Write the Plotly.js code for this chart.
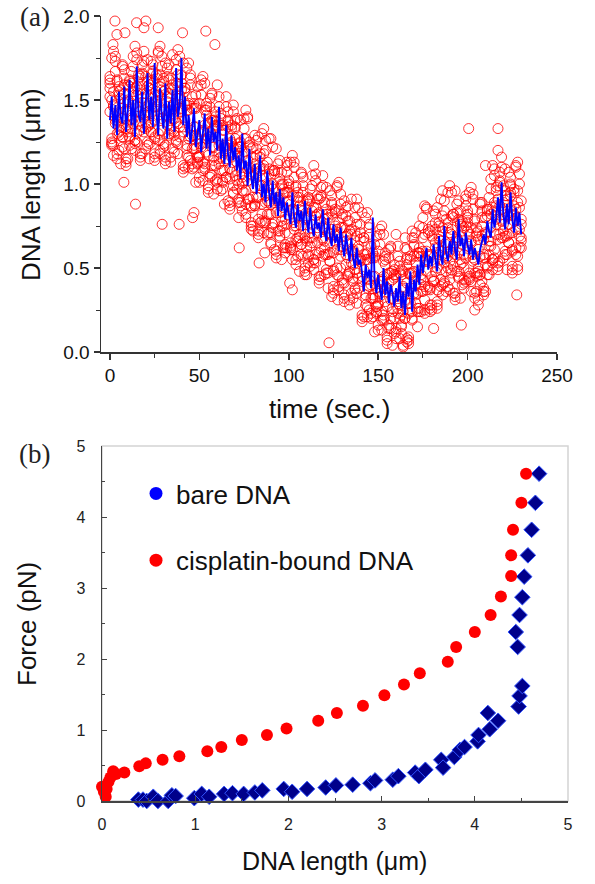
<!DOCTYPE html>
<html>
<head>
<meta charset="utf-8">
<script src="https://cdn.plot.ly/plotly-3.0.1.min.js"></script>
<style>html,body{margin:0;padding:0;background:#fff;}#chart{width:595px;height:884px;}</style>
</head>
<body>
<div id="chart"></div>
<script>
// ---------- Panel (a): DNA length vs time ----------
const timeStart = 0, timeEnd = 230;   // one sample per second
const blueLength = [
1.38,1.52,1.33,1.47,1.29,1.55,1.40,1.36,1.58,1.31,
1.44,1.62,1.35,1.50,1.28,1.70,1.41,1.37,1.55,1.30,
1.48,1.66,1.38,1.52,1.34,1.72,1.43,1.29,1.57,1.40,
1.33,1.60,1.27,1.49,1.36,1.56,1.31,1.69,1.40,1.47,
1.75,1.35,1.52,1.28,1.41,1.24,1.33,1.45,1.22,1.30,
1.38,1.19,1.29,1.42,1.21,1.33,1.17,1.40,1.25,1.31,
1.20,1.46,1.15,1.27,1.12,1.35,1.18,1.10,1.29,1.14,
1.22,1.08,1.17,1.03,1.30,1.09,1.14,0.99,1.21,1.04,
0.97,1.12,0.94,1.05,1.17,0.92,1.00,0.89,1.08,0.95,
0.86,1.02,0.88,0.95,0.81,0.97,0.84,0.92,0.79,0.89,
0.83,0.76,0.95,0.80,0.74,0.88,0.78,0.84,0.72,0.90,
0.79,0.71,0.86,0.74,0.69,0.82,0.73,0.77,0.68,0.85,
0.72,0.66,0.80,0.69,0.63,0.76,0.65,0.70,0.60,0.74,
0.64,0.57,0.70,0.60,0.54,0.68,0.56,0.50,0.62,0.52,
0.55,0.47,0.36,0.52,0.44,0.49,0.38,0.80,0.43,0.35,
0.46,0.37,0.31,0.50,0.34,0.42,0.29,0.40,0.35,0.27,
0.38,0.30,0.45,0.26,0.36,0.22,0.41,0.33,0.48,0.24,
0.43,0.36,0.52,0.40,0.58,0.47,0.55,0.62,0.49,0.57,
0.51,0.64,0.55,0.48,0.69,0.57,0.52,0.75,0.59,0.54,
0.66,0.58,0.72,0.61,0.55,0.79,0.63,0.68,0.57,0.71,
0.64,0.58,0.67,0.55,0.62,0.57,0.52,0.61,0.66,0.70,
0.64,0.78,0.72,0.68,0.85,0.74,0.80,0.92,0.77,1.01,
0.82,0.73,0.88,0.76,0.95,0.79,0.71,0.86,0.75,0.83,0.70];

const redLengthA = [
1.64,1.24,1.47,1.76,1.15,1.53,1.34,1.71,1.21,1.44,
1.50,1.27,1.67,1.47,1.24,1.74,1.37,1.56,1.18,1.79,
1.37,1.74,1.24,1.47,1.67,1.27,1.50,1.79,1.18,1.56,
1.22,1.72,1.35,1.54,1.16,1.77,1.48,1.25,1.65,1.45,
1.44,1.72,1.10,1.47,1.27,1.63,1.12,1.34,1.53,1.12,
1.01,1.62,1.32,1.09,1.48,1.28,1.04,1.54,1.16,1.35,
1.01,1.23,1.42,1.01,1.23,1.52,0.90,1.27,1.07,1.43,
1.34,1.13,0.89,1.38,1.00,1.19,0.80,1.40,1.10,0.86,
0.75,1.12,0.92,1.28,0.77,0.99,1.18,0.77,0.99,1.27,
0.82,1.00,0.61,1.21,0.91,0.68,1.07,0.86,0.62,1.11,
1.02,0.62,0.85,1.13,0.52,0.90,0.70,1.07,0.57,0.79,
0.81,0.57,0.97,0.76,0.53,1.02,0.65,0.83,0.45,1.05,
0.62,0.98,0.47,0.70,0.89,0.48,0.70,0.99,0.37,0.74,
0.41,0.90,0.52,0.70,0.31,0.91,0.61,0.37,0.76,0.55,
0.55,0.83,0.21,0.58,0.38,0.74,0.23,0.45,0.64,0.23,
0.13,0.73,0.43,0.19,0.59,0.38,0.14,0.63,0.26,0.44,
0.12,0.34,0.54,0.15,0.39,0.68,0.08,0.47,0.29,0.68,
0.64,0.45,0.24,0.75,0.40,0.60,0.23,0.86,0.58,0.37,
0.28,0.67,0.48,0.86,0.36,0.60,0.81,0.41,0.65,0.95,
0.54,0.73,0.35,0.96,0.67,0.44,0.84,0.64,0.41,0.91,
0.84,0.44,0.66,0.94,0.32,0.69,0.50,0.89,0.42,0.67,
0.71,0.50,0.92,0.74,0.53,1.05,0.70,0.91,0.54,1.16,
0.72,1.09,0.58,0.81,1.00,0.60,0.82,1.11,0.49,0.86,0.66];

const redLengthB = [
1.60,1.50,1.17,1.73,1.30,1.20,1.56,1.39,1.68,1.11,
1.59,1.23,1.33,1.76,1.20,1.53,1.63,1.14,1.71,1.42,
1.33,1.23,1.59,1.42,1.71,1.14,1.63,1.53,1.20,1.76,
1.61,1.12,1.69,1.40,1.57,1.21,1.31,1.74,1.18,1.51,
1.65,1.07,1.55,1.44,1.10,1.65,1.21,1.10,1.45,1.27,
1.16,1.59,1.02,1.35,1.44,0.95,1.51,1.22,1.38,1.02,
0.97,1.52,1.08,0.97,1.32,1.15,1.43,0.85,1.33,1.22,
1.38,1.08,1.24,0.87,0.96,1.39,0.82,1.14,1.23,0.73,
1.16,0.98,1.26,0.68,1.16,1.05,0.71,1.26,0.82,0.71,
0.65,0.97,1.06,0.56,1.12,0.83,0.99,0.62,0.71,1.13,
0.98,0.88,0.55,1.10,0.67,0.57,0.92,0.75,1.04,0.46,
0.90,0.53,0.63,1.05,0.49,0.81,0.91,0.41,0.98,0.68,
0.58,0.47,0.82,0.65,0.93,0.35,0.83,0.73,0.39,0.94,
0.80,0.30,0.86,0.56,0.72,0.35,0.44,0.86,0.29,0.61,
0.76,0.18,0.66,0.55,0.21,0.76,0.32,0.21,0.56,0.38,
0.28,0.70,0.13,0.45,0.55,0.05,0.61,0.31,0.48,0.11,
0.08,0.63,0.20,0.11,0.48,0.31,0.61,0.05,0.55,0.47,
0.68,0.40,0.59,0.24,0.36,0.80,0.25,0.60,0.71,0.24,
0.69,0.53,0.82,0.26,0.75,0.66,0.34,0.90,0.48,0.39,
0.37,0.70,0.80,0.31,0.88,0.59,0.76,0.40,0.50,0.93,
0.80,0.70,0.36,0.91,0.47,0.36,0.72,0.57,0.89,0.34,
0.80,0.46,0.58,1.03,0.49,0.84,0.96,0.49,1.07,0.79,
0.68,0.58,0.93,0.76,1.04,0.47,0.95,0.85,0.51,1.06,0.62];

const redLengthC = [
1.62,1.27,1.79,1.36,1.18,1.58,1.32,1.70,1.48,1.13,
1.35,1.61,1.21,1.39,1.82,1.30,1.65,1.16,1.51,1.73,
1.21,1.61,1.35,1.73,1.51,1.16,1.65,1.30,1.82,1.39,
1.63,1.14,1.49,1.71,1.33,1.59,1.19,1.37,1.80,1.28,
1.45,1.09,1.57,1.21,1.72,1.28,1.09,1.48,1.21,1.58,
1.04,1.22,1.64,1.12,1.46,0.97,1.31,1.53,1.14,1.40,
1.59,1.15,0.96,1.35,1.08,1.46,1.23,0.87,1.35,0.99,
1.18,1.39,1.00,1.25,0.84,1.02,1.44,0.91,1.25,0.75,
0.92,1.29,1.06,0.70,1.18,0.82,1.33,0.89,0.70,1.09,
1.27,0.74,1.08,0.58,0.92,1.14,0.75,1.00,0.59,0.76,
1.00,0.65,1.17,0.73,0.55,0.95,0.68,1.06,0.84,0.48,
0.66,0.91,0.51,0.68,1.11,0.58,0.93,0.43,0.78,0.99,
0.46,0.85,0.58,0.96,0.73,0.37,0.85,0.50,1.01,0.57,
0.82,0.32,0.66,0.87,0.48,0.73,0.32,0.49,0.91,0.38,
0.56,0.20,0.68,0.32,0.83,0.39,0.20,0.59,0.32,0.69,
0.16,0.33,0.75,0.22,0.57,0.07,0.41,0.62,0.24,0.49,
0.70,0.26,0.08,0.49,0.24,0.62,0.41,0.07,0.57,0.24,
0.48,0.71,0.35,0.62,0.24,0.43,0.87,0.37,0.73,0.26,
0.45,0.84,0.62,0.28,0.77,0.43,0.96,0.53,0.36,0.77,
0.99,0.47,0.82,0.33,0.68,0.90,0.52,0.78,0.38,0.56,
0.82,0.47,0.98,0.54,0.35,0.74,0.48,0.88,0.69,0.36,
0.56,0.84,0.46,0.66,1.11,0.61,0.98,0.51,0.87,1.10,
0.56,0.96,0.69,1.07,0.84,0.49,0.97,0.62,1.13,0.69,0.90];

const redLengthD = [
1.43,1.75,1.23,1.67,1.38,1.55,1.12,1.28,1.63,1.15,
1.15,1.58,1.41,1.70,1.26,1.78,1.46,1.18,1.66,1.31,
1.41,1.58,1.15,1.31,1.66,1.18,1.46,1.78,1.26,1.70,
1.44,1.16,1.64,1.29,1.13,1.56,1.39,1.68,1.24,1.76,
1.60,1.11,1.38,1.69,1.16,1.59,1.29,1.45,1.01,1.16,
1.24,1.53,1.08,1.60,1.27,0.99,1.46,1.11,0.94,1.37,
1.03,1.46,1.16,1.32,0.88,1.04,1.38,0.89,1.16,1.47,
1.33,0.97,0.80,1.22,1.04,1.33,0.88,1.39,1.06,0.77,
0.72,0.87,1.21,0.72,0.99,1.30,0.77,1.20,0.90,1.06,
0.71,1.22,0.89,0.60,1.07,0.72,0.55,0.97,0.79,1.07,
0.81,1.13,0.61,1.04,0.75,0.92,0.48,0.64,0.99,0.50,
0.46,0.88,0.71,0.99,0.55,1.06,0.74,0.45,0.93,0.57,
0.66,0.82,0.38,0.54,0.88,0.39,0.66,0.98,0.45,0.88,
0.63,0.34,0.81,0.45,0.28,0.70,0.52,0.80,0.35,0.86,
0.71,0.22,0.49,0.80,0.27,0.70,0.40,0.56,0.12,0.27,
0.36,0.64,0.19,0.70,0.38,0.09,0.56,0.20,0.04,0.46,
0.14,0.57,0.28,0.46,0.04,0.20,0.56,0.09,0.38,0.72,
0.63,0.29,0.15,0.59,0.44,0.74,0.31,0.85,0.54,0.28,
0.25,0.42,0.77,0.30,0.58,0.91,0.40,0.84,0.56,0.74,
0.43,0.95,0.63,0.35,0.83,0.48,0.32,0.75,0.58,0.87,
0.63,0.95,0.42,0.85,0.55,0.71,0.28,0.46,0.84,0.38,
0.36,0.81,0.66,0.97,0.55,1.09,0.79,0.53,1.02,0.68,
0.76,0.93,0.49,0.65,0.99,0.51,0.78,1.10,0.57,1.00,0.68];

const redLengthE = [
1.52,1.23,1.55,1.40,1.61,1.31,1.45,1.28,1.59,1.35,
1.31,1.62,1.38,1.55,1.26,1.58,1.43,1.64,1.34,1.48,
1.64,1.34,1.48,1.31,1.62,1.38,1.55,1.26,1.58,1.43,
1.24,1.56,1.41,1.62,1.32,1.46,1.29,1.60,1.36,1.53,
1.56,1.31,1.47,1.17,1.48,1.32,1.52,1.21,1.34,1.16,
1.17,1.31,1.13,1.44,1.19,1.36,1.06,1.38,1.22,1.43,
1.35,1.19,1.39,1.08,1.21,1.04,1.34,1.09,1.25,0.95,
1.05,1.21,0.91,1.22,1.06,1.27,0.96,1.09,0.91,1.21,
1.05,0.87,1.17,0.92,1.08,0.78,1.09,0.93,1.13,0.82,
0.88,1.08,0.77,0.90,0.72,1.03,0.78,0.94,0.64,0.95,
0.90,0.61,0.93,0.77,0.98,0.68,0.81,0.64,0.95,0.70,
0.62,0.92,0.68,0.84,0.55,0.86,0.71,0.91,0.61,0.74,
0.89,0.58,0.71,0.54,0.84,0.59,0.75,0.46,0.77,0.61,
0.43,0.74,0.58,0.78,0.47,0.60,0.42,0.72,0.47,0.63,
0.67,0.42,0.58,0.28,0.59,0.43,0.63,0.32,0.45,0.27,
0.29,0.42,0.24,0.54,0.30,0.46,0.16,0.47,0.32,0.52,
0.46,0.30,0.51,0.22,0.37,0.20,0.52,0.29,0.47,0.20,
0.35,0.53,0.26,0.59,0.46,0.68,0.39,0.55,0.39,0.72,
0.58,0.42,0.73,0.50,0.67,0.39,0.72,0.57,0.79,0.50,
0.60,0.81,0.51,0.65,0.48,0.79,0.55,0.72,0.43,0.75,
0.72,0.43,0.74,0.58,0.78,0.47,0.61,0.46,0.80,0.58,
0.52,0.85,0.63,0.82,0.55,0.89,0.76,0.99,0.70,0.85,
0.99,0.69,0.82,0.65,0.95,0.71,0.87,0.58,0.89,0.73,0.79];

const redLengthF = [
1.57,1.25,1.46,1.38,1.62,1.29,1.51,1.22,1.54,1.33,
1.49,1.28,1.60,1.36,1.57,1.25,1.54,1.32,1.65,1.41,
1.54,1.25,1.57,1.36,1.60,1.28,1.49,1.41,1.65,1.32,
1.55,1.23,1.52,1.30,1.63,1.39,1.47,1.26,1.58,1.34,
1.43,1.34,1.57,1.23,1.44,1.14,1.45,1.23,1.46,1.13,
1.48,1.24,1.31,1.10,1.41,1.17,1.37,1.05,1.33,1.11,
1.34,1.12,1.35,1.02,1.22,1.14,1.37,1.03,1.24,0.94,
1.27,1.02,1.22,0.89,1.17,0.95,1.27,1.02,1.09,0.87,
1.22,0.88,1.09,0.79,1.10,0.88,1.11,0.78,0.98,0.89,
0.99,0.76,1.08,0.83,0.90,0.69,1.00,0.75,0.95,0.62,
0.95,0.63,0.84,0.75,0.99,0.66,0.87,0.58,0.90,0.68,
0.80,0.58,0.90,0.65,0.86,0.53,0.82,0.59,0.92,0.67,
0.79,0.49,0.80,0.59,0.82,0.49,0.69,0.61,0.84,0.50,
0.74,0.41,0.69,0.46,0.78,0.53,0.60,0.38,0.69,0.44,
0.54,0.45,0.68,0.34,0.55,0.25,0.56,0.34,0.57,0.24,
0.60,0.35,0.42,0.20,0.52,0.27,0.47,0.14,0.43,0.20,
0.45,0.23,0.47,0.16,0.38,0.30,0.55,0.23,0.46,0.19,
0.57,0.34,0.57,0.26,0.57,0.36,0.70,0.48,0.57,0.38,
0.75,0.43,0.65,0.37,0.69,0.49,0.74,0.42,0.64,0.57,
0.71,0.49,0.82,0.58,0.66,0.45,0.77,0.53,0.74,0.42,
0.77,0.45,0.65,0.56,0.79,0.45,0.67,0.40,0.75,0.56,
0.70,0.51,0.85,0.63,0.86,0.56,0.87,0.67,1.01,0.78,
0.89,0.60,0.91,0.70,0.93,0.61,0.81,0.73,0.96,0.62,0.76];

// isolated red points away from the band
const outlierTime   = [2.8,3.9,8.4,14.9,19.0,20.1,27.0,40.6,53.6,58.7,1.7,
                       7.8,14.3,29.2,38.7,46.2,47.0,72.3,83.4,86.6,90.0,100.5,102.0,122.5,124.0,127.5,
                       164.0,166.0,181.0,196.5,204.0,206.0,227.5,200.6,217.0,217.0,210.0];
const outlierLength = [1.97,1.89,1.90,1.96,1.93,1.97,1.93,1.90,1.91,1.83,1.83,
                       1.01,0.88,0.76,0.76,0.80,0.83,0.62,0.53,0.59,0.64,0.41,0.37,0.055,0.33,0.31,
                       0.03,0.06,0.14,0.16,0.25,0.31,0.34,1.33,1.33,1.20,1.11];

// ---------- Panel (b): force vs extension ----------
const bareLength = [0.39,0.44,0.48,0.55,0.60,0.71,0.75,0.79,0.99,1.07,1.15,1.31,1.40,1.52,1.64,1.72,
  1.95,2.04,2.20,2.40,2.51,2.69,2.88,2.93,3.12,3.18,3.36,3.40,3.47,3.64,3.66,3.78,3.84,3.89,
  4.03,4.04,4.16,4.14,4.25,4.47,4.48,4.51,4.46,4.44,4.48,4.51,4.53,4.57,4.61,4.65,4.69];
const bareForce  = [0.02,0.02,0.00,0.06,0.00,0.00,0.08,0.07,0.04,0.10,0.06,0.10,0.11,0.10,0.12,0.15,
  0.17,0.13,0.17,0.19,0.22,0.23,0.25,0.29,0.30,0.35,0.40,0.35,0.44,0.58,0.47,0.62,0.72,0.76,
  0.84,0.93,1.01,1.24,1.13,1.33,1.48,1.62,2.17,2.38,2.62,2.87,3.16,3.46,3.82,4.20,4.61];
const cisLength = [0.00,0.02,0.04,0.05,0.07,0.09,0.12,0.15,0.24,0.40,0.47,0.65,0.83,1.13,1.28,1.50,
  1.77,1.98,2.32,2.52,2.80,3.03,3.24,3.41,3.71,3.80,4.00,4.17,4.28,4.39,4.39,4.41,4.50,4.55];
const cisForce  = [0.20,0.13,0.06,0.17,0.27,0.33,0.42,0.38,0.40,0.49,0.53,0.58,0.63,0.70,0.76,0.86,
  0.93,1.02,1.13,1.24,1.34,1.49,1.64,1.80,1.96,2.17,2.38,2.62,2.88,3.17,3.46,3.82,4.20,4.61];
const legendNames = ['bare DNA', 'cisplatin-bound DNA'];

// ---------- build ----------
const time = [];
for (let t = timeStart; t <= timeEnd; t++) time.push(t);

const FONT = 'Liberation Sans, Arial, sans-serif';
const redOpen = {symbol: 'circle-open', size: 10, color: 'rgba(255,0,0,0.8)', line: {width: 1}};

function redTrace(x, y) {
  return {x: x, y: y, xaxis: 'x', yaxis: 'y', type: 'scatter', mode: 'markers',
          marker: redOpen, showlegend: false, cliponaxis: false, hoverinfo: 'skip'};
}

const data = [
  redTrace(time, redLengthA), redTrace(time, redLengthB),
  redTrace(time, redLengthC), redTrace(time, redLengthD),
  redTrace(time, redLengthE), redTrace(time, redLengthF),
  redTrace(outlierTime, outlierLength),
  {x: time, y: blueLength, xaxis: 'x', yaxis: 'y', type: 'scatter', mode: 'lines',
   line: {color: '#0000ff', width: 1.9}, showlegend: false, cliponaxis: false},
  {x: bareLength, y: bareForce, xaxis: 'x2', yaxis: 'y2', type: 'scatter', mode: 'markers',
   marker: {symbol: 'diamond', size: 12, color: '#00008b', line: {color: '#3355ff', width: 1}},
   showlegend: false, cliponaxis: false},
  {x: cisLength, y: cisForce, xaxis: 'x2', yaxis: 'y2', type: 'scatter', mode: 'markers',
   marker: {symbol: 'circle', size: 12, color: '#ff0000'}, showlegend: false, cliponaxis: false},
  {x: [null], y: [null], xaxis: 'x2', yaxis: 'y2', type: 'scatter', mode: 'markers', name: legendNames[0],
   marker: {symbol: 'circle', size: 13, color: '#0000ff'}, legendgroup: 'g1'},
  {x: [null], y: [null], xaxis: 'x2', yaxis: 'y2', type: 'scatter', mode: 'markers', name: legendNames[1],
   marker: {symbol: 'circle', size: 13, color: '#ff0000'}, legendgroup: 'g2'}
];

const W = 595, H = 884;
const px = v => v / W, py = v => (H - v) / H;

function label(text, x, y, size, extra) {
  return Object.assign({text: text, xref: 'paper', yref: 'paper', x: px(x), y: py(y),
    xanchor: 'center', yanchor: 'middle', showarrow: false,
    font: {size: size, family: FONT, color: '#111'}}, extra || {});
}

const layout = {
  width: W, height: H,
  margin: {l: 0, r: 0, t: 0, b: 0},
  paper_bgcolor: '#fff', plot_bgcolor: 'rgba(0,0,0,0)',
  font: {family: FONT, color: '#111'},
  xaxis: {domain: [px(101), px(557)], range: [-5, 250], anchor: 'y', dtick: 50,
    showline: true, linecolor: '#333', linewidth: 1.5, ticks: 'outside', ticklen: 6, tickwidth: 1.5, tickcolor: '#333',
    minor: {dtick: 25, ticks: 'outside', ticklen: 4, tickcolor: '#333', tickwidth: 1},
    showgrid: false, zeroline: false, tickfont: {size: 19, family: FONT, color: '#111'}},
  yaxis: {domain: [py(352), py(16)], range: [0, 2], anchor: 'x', dtick: 0.5, tickformat: '.1f',
    showline: true, linecolor: '#333', linewidth: 1.5, ticks: 'outside', ticklen: 6, tickwidth: 1.5, tickcolor: '#333',
    minor: {dtick: 0.25, ticks: 'outside', ticklen: 4, tickcolor: '#333', tickwidth: 1},
    showgrid: false, zeroline: false, tickfont: {size: 19, family: FONT, color: '#111'}},
  xaxis2: {domain: [px(102), px(568)], range: [0, 5], anchor: 'y2', dtick: 1,
    showline: true, linecolor: '#444', linewidth: 1.5, ticks: 'inside', ticklen: 5, tickcolor: '#444',
    minor: {dtick: 0.5, ticks: 'inside', ticklen: 3, tickcolor: '#444'},
    ticklabelstandoff: 8,
    showgrid: false, zeroline: false, tickfont: {size: 16, family: FONT, color: '#222'}},
  yaxis2: {domain: [py(801), py(446)], range: [0, 5], anchor: 'x2', dtick: 1,
    showline: true, linecolor: '#444', linewidth: 1.5, ticks: 'inside', ticklen: 5, tickcolor: '#444',
    minor: {dtick: 0.5, ticks: 'inside', ticklen: 3, tickcolor: '#444'},
    ticklabelstandoff: 12,
    showgrid: false, zeroline: false, tickfont: {size: 16, family: FONT, color: '#222'}},
  shapes: [{type: 'rect', xref: 'x2 domain', yref: 'y2 domain', x0: 0, x1: 1, y0: 0, y1: 1,
    line: {color: '#d4d4d4', width: 1.5}, layer: 'below'}],
  showlegend: true,
  legend: {x: px(136), y: py(470), xanchor: 'left', yanchor: 'top', bgcolor: 'rgba(0,0,0,0)',
    traceorder: 'grouped', tracegroupgap: 30, font: {size: 26, family: FONT, color: '#111'}},
  annotations: [
    label('(a)', 35, 17, 27, {font: {family: 'Liberation Serif, Times New Roman, serif', size: 27, color: '#222'}}),
    label('(b)', 34, 454, 27, {font: {family: 'Liberation Serif, Times New Roman, serif', size: 27, color: '#222'}}),
    label('DNA length (μm)', 31, 185, 26, {textangle: -90}),
    label('time (sec.)', 329, 409, 26),
    label('Force (pN)', 27, 624, 26, {textangle: -90}),
    label('DNA length (μm)', 334, 861, 25)
  ]
};

Plotly.newPlot('chart', data, layout, {staticPlot: true, displayModeBar: false});
</script>
</body>
</html>
